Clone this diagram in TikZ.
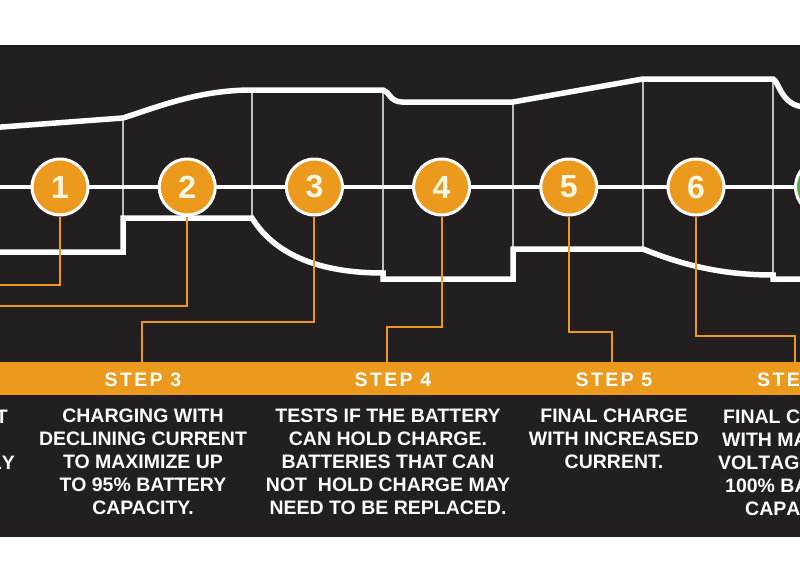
\documentclass[tikz,border=0pt]{standalone}
\usepackage{fontspec}
\setmainfont{Liberation Sans}
\newfontfamily\titlefont{Liberation Sans}[LetterSpace=12]
\newfontfamily\cutfont{Liberation Sans}[Kerning=Off]
\definecolor{panel}{RGB}{35,31,32}
\definecolor{amber}{RGB}{236,154,30}
\definecolor{divgray}{RGB}{190,190,190}
\definecolor{cream}{RGB}{255,246,228}
\definecolor{leafgreen}{RGB}{84,170,64}
\tikzset{
  stepnum/.style={shape=circle, draw=white, line width=3pt, fill=amber, minimum size=56pt, inner sep=0pt, text=cream, font=\fontsize{32}{32}\selectfont\bfseries},
  outline/.style={draw=white, line width=5.5pt, line join=miter},
  divider/.style={draw=divgray, line width=2.5pt},
  leader/.style={draw=amber, line width=2pt},
  steptitle/.style={anchor=base, text=white, inner sep=0pt, font=\titlefont\fontsize{19.5}{23}\selectfont\bfseries},
  steptext/.style={anchor=north, align=center, text=white, inner sep=0pt, font=\fontsize{19.5}{23}\selectfont\bfseries},
  cuttext/.style={text=white, inner sep=0pt, font=\cutfont\fontsize{19.5}{23}\selectfont\bfseries}
}
\begin{document}
\begin{tikzpicture}[x=1pt, y=-1pt]
\useasboundingbox (0,0) rectangle (800,584);
\clip (0,0) rectangle (800,584);
\fill[white] (0,0) rectangle (800,584);
\fill[panel] (0,45) rectangle (800,537);
% zone dividers
\foreach \x/\top/\bot in {123/118/218, 252/90/218, 383/90/273, 513/102/249, 643/79/249, 773/80/275}
  \draw[divider] (\x,\top) -- (\x,\bot);
% battery outline
\draw[outline] (-5,127.5) -- (123,118) .. controls (160,106) and (200,90) .. (252,90) -- (383,90) .. controls (389,91) and (390,102) .. (402,102) -- (513,102) -- (643,79) -- (773,79) .. controls (779,81) and (781,106) .. (805,107);
\draw[outline] (-5,252) -- (123,252) -- (123,218) -- (252,218) .. controls (275,255) and (320,273) .. (383,273) -- (383,279) -- (513,279) -- (513,249) -- (643,249) .. controls (680,264) and (720,275) .. (773,275) -- (773,279) -- (805,279);
\draw[outline, line width=4.5pt] (-5,187) -- (805,187);
\fill[amber] (0,362) rectangle (800,395);
% steps
\foreach \n in {1,...,6}
  \node[stepnum] (c\n) at ({60+127.2*(\n-1)},187) {\n};
\node[stepnum, fill=leafgreen] (c7) at (823.5,187) {};
\coordinate (e1) at (0,285);
\coordinate (e2) at (0,306);
\coordinate (b3) at (142,322);
\coordinate (e3) at (142,362);
\coordinate (b4) at (387,327);
\coordinate (e4) at (387,362);
\coordinate (b5) at (612,332);
\coordinate (e5) at (612,362);
\coordinate (b6) at (795,336);
\coordinate (e6) at (795,362);
\draw[leader] (c1.south) |- (e1);
\draw[leader] (c2.south) |- (e2);
\draw[leader] (c3.south) |- (b3) -- (e3);
\draw[leader] (c4.south) |- (b4) -- (e4);
\draw[leader] (c5.south) |- (b5) -- (e5);
\draw[leader] (c6.south) |- (b6) -- (e6);
% labels
\node[steptitle] (s3) at (143,386) {STEP 3};
\node[steptitle] (s4) at (393,386) {STEP 4};
\node[steptitle] (s5) at (614,386) {STEP 5};
\node[steptitle, anchor=base west] (s6) at (757,386) {STE};
\node[steptext] (t3) at (143,409) {CHARGING WITH\\DECLINING CURRENT\\TO MAXIMIZE UP\\TO 95\% BATTERY\\CAPACITY.};
\node[steptext] (t4) at (388,409) {TESTS IF THE BATTERY\\CAN HOLD CHARGE.\\BATTERIES THAT CAN\\NOT~~HOLD CHARGE MAY\\NEED TO BE REPLACED.};
\node[steptext] (t5) at (614,409) {FINAL CHARGE\\WITH INCREASED\\CURRENT.};
\node[cuttext, anchor=base east] (t2a) at (8,423) {T};
\node[cuttext, anchor=base east] (t2b) at (15,469) {LY};
\foreach \y/\x/\s [count=\i] in {423/723/FINAL C, 446/722/WITH MA, 469/718/VOLTAG, 492/725/100\% BA, 515/745/CAPA}
  \node[cuttext, anchor=base west] (t6\i) at (\x,\y) {\s};
\end{tikzpicture}
\end{document}
